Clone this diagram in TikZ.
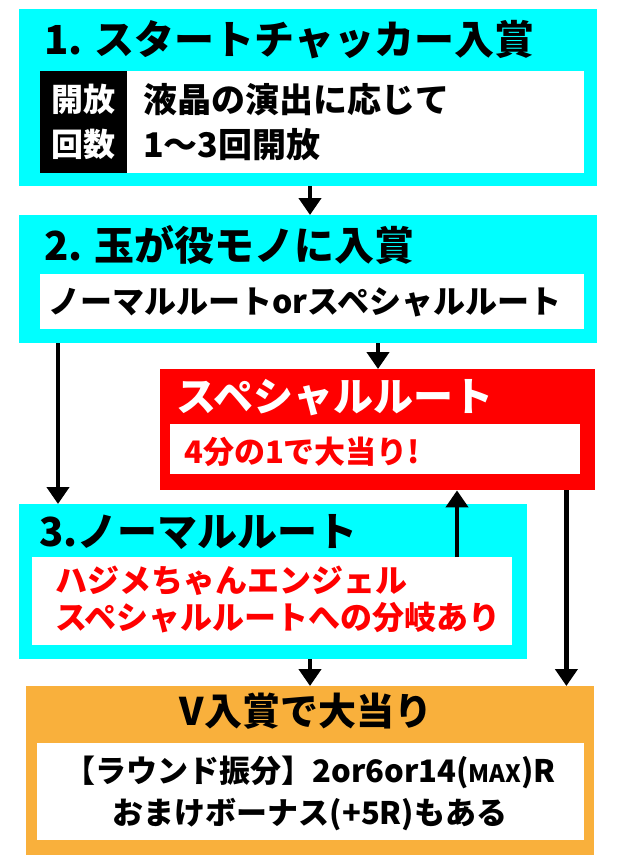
\documentclass[tikz,border=0pt]{standalone}
\usepackage{fontspec}
\setmainfont{Noto Sans CJK JP}[UprightFont={* Black}]
\usetikzlibrary{positioning,arrows.meta}
\definecolor{boxcyan}{RGB}{0,255,255}
\definecolor{boxred}{RGB}{255,0,0}
\definecolor{boxorange}{RGB}{249,176,60}

\begin{document}
\begin{tikzpicture}[x=1pt, y=-1pt,
        panel/.style={rectangle, anchor=north west, inner sep=0pt},
        cyanbox/.style={panel, fill=boxcyan},
        redbox/.style={panel, fill=boxred},
        orangebox/.style={panel, fill=boxorange},
        whitebox/.style={panel, fill=white},
        labelbox/.style={panel, fill=black, text=white, align=center,
                        font=\fontsize{32}{45}\selectfont},
        heading/.style={anchor=west, inner sep=0pt, font=\fontsize{40}{44}\selectfont},
        bodytext/.style={anchor=west, inner sep=0pt, align=left,
                        font=\fontsize{34}{45}\selectfont},
        arrow/.style={-{Triangle[length=17pt, width=22pt]}, line width=4.5pt, black}
    ]
        \useasboundingbox (0,0) rectangle (640,867);

        % 1. スタートチャッカー
        \node[cyanbox, minimum width=578pt, minimum height=177pt] (start) at (19,9) {};
        \node[heading] (starttitle) at (44,40) {1. スタートチャッカー入賞};
        \node[whitebox, minimum width=544pt, minimum height=102pt] (startbody) at (40,71) {};
        \node[labelbox, minimum width=87pt, minimum height=102pt] (startlabel) at (40,71) {開放\\回数};
        \node[bodytext] (starttext) at (143,122) {液晶の演出に応じて\\1〜3回開放};

        % 2. 役モノ
        \node[cyanbox, minimum width=578pt, minimum height=128pt] (route) at (19,215) {};
        \node[heading] (routetitle) at (44,245) {2. 玉が役モノに入賞};
        \node[whitebox, minimum width=544pt, minimum height=55pt] (routebody) at (40,274) {};
        \node[bodytext, font=\fontsize{32}{36}\selectfont] (routetext) at (48,302) {ノーマルルートorスペシャルルート};

        % スペシャルルート
        \node[redbox, minimum width=435pt, minimum height=121pt] (special) at (160,369) {};
        \node[heading, text=white] (specialtitle) at (176,398) {スペシャルルート};
        \node[whitebox, minimum width=410pt, minimum height=50pt] (specialbody) at (170,424) {};
        \node[bodytext, text=boxred, font=\fontsize{31}{36}\selectfont] (specialtext) at (184,452) {4分の1で大当り!};

        % 3. ノーマルルート
        \node[cyanbox, minimum width=508pt, minimum height=155pt] (normal) at (19,504) {};
        \node[heading] (normaltitle) at (39,532) {3.ノーマルルート};
        \node[whitebox, minimum width=480pt, minimum height=88pt] (normalbody) at (32,557) {};
        \node[bodytext, text=boxred, font=\fontsize{32}{37}\selectfont] (normaltext) at (55,600)
            {ハジメちゃんエンジェル\\スペシャルルートへの分岐あり};

        % V入賞
        \node[orangebox, minimum width=568pt, minimum height=169pt] (bonus) at (26,686) {};
        \node[heading, anchor=center, font=\fontsize{38}{44}\selectfont] (bonustitle) at (306,711) {V入賞で大当り};
        \node[whitebox, minimum width=547pt, minimum height=97pt] (bonusbody) at (37,743) {};
        \node[bodytext, anchor=center, align=center, font=\fontsize{31}{42}\selectfont] (bonustext) at (310,793)
            {【ラウンド振分】2or6or14({\fontsize{24}{24}\selectfont MAX})R\\おまけボーナス(+5R)もある};

        % 矢印
        \draw[arrow] ([xshift=291pt]start.south west) -- ([xshift=291pt]start.south west |- route.north);
        \draw[arrow] ([xshift=39pt]route.south west) -- ([xshift=39pt]route.south west |- normal.north);
        \draw[arrow] ([xshift=359pt]route.south west) -- ([xshift=359pt]route.south west |- special.north);
        \draw[arrow] ([xshift=425pt]normalbody.north west) -- ([xshift=425pt]normalbody.north west |- special.south);
        \draw[arrow] ([xshift=-29pt]special.south east) -- ([xshift=-29pt]special.south east |- bonus.north);
        \draw[arrow] ([xshift=291pt]normal.south west) -- ([xshift=291pt]normal.south west |- bonus.north);
    \end{tikzpicture}
\end{document}
